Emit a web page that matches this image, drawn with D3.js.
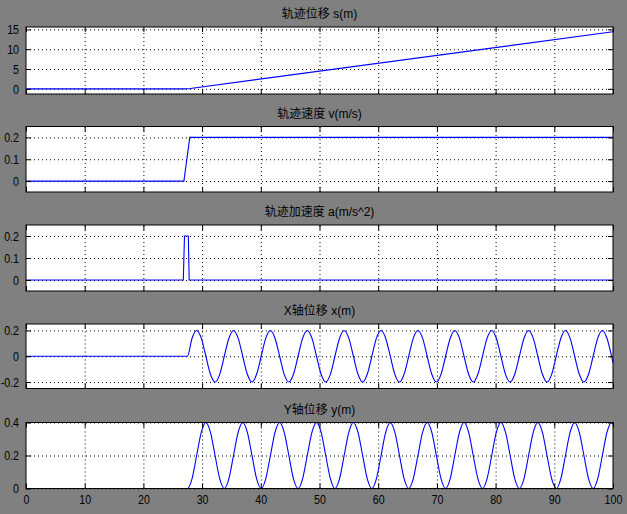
<!DOCTYPE html>
<html>
<head>
<meta charset="utf-8">
<script src="https://cdn.jsdelivr.net/npm/d3@7/dist/d3.min.js"></script>
<style>
  html, body { margin: 0; padding: 0; background: #808080; }
  svg { display: block; }
  .tick text { font-family: "Liberation Sans", Arial, sans-serif; font-size: 13px; fill: #000; }
  .title { font-family: "Liberation Sans", "Noto Sans CJK SC", sans-serif; font-size: 12px; fill: #000; }
</style>
</head>
<body>
<svg id="chart" width="627" height="514"></svg>
<script>
// ---- data ----
const titles = ["轨迹位移 s(m)", "轨迹速度 v(m/s)", "轨迹加速度 a(m/s^2)", "X轴位移 x(m)", "Y轴位移 y(m)"];
const xTicks = [0, 10, 20, 30, 40, 50, 60, 70, 80, 90, 100];
const yTicksS = [0, 5, 10, 15];
const yTicksV = [0, 0.1, 0.2];
const yTicksA = [0, 0.1, 0.2];
const yTicksX = [-0.2, 0, 0.2];
const yTicksY = [0, 0.2, 0.4];

const sTime = [0, 27.0, 27.5, 28.0, 100];
const sVal  = [0, 0, 0.025, 0.1, 14.4];

const vTime = [0, 26.9, 27.9, 100];
const vVal  = [0, 0, 0.2, 0.2];

const aTime = [0, 26.8, 27.0, 27.65, 27.8, 100];
const aVal  = [0, 0, 0.2, 0.2, 0, 0];

const oscTime = [0, 27.50, 28.29, 29.07, 29.86, 30.64, 31.43, 32.21, 33.00,
  33.78, 34.57, 35.35, 36.14, 36.92, 37.71, 38.50, 39.28,
  40.07, 40.85, 41.64, 42.42, 43.21, 43.99, 44.78, 45.56,
  46.35, 47.13, 47.92, 48.71, 49.49, 50.28, 51.06, 51.85,
  52.63, 53.42, 54.20, 54.99, 55.77, 56.56, 57.35, 58.13,
  58.92, 59.70, 60.49, 61.27, 62.06, 62.84, 63.63, 64.41,
  65.20, 65.98, 66.77, 67.56, 68.34, 69.13, 69.91, 70.70,
  71.48, 72.27, 73.05, 73.84, 74.62, 75.41, 76.19, 76.98,
  77.77, 78.55, 79.34, 80.12, 80.91, 81.69, 82.48, 83.26,
  84.05, 84.84, 85.62, 86.41, 87.19, 87.98, 88.76, 89.55,
  90.33, 91.12, 91.90, 92.69, 93.47, 94.26, 95.05, 95.83,
  96.62, 97.40, 98.19, 98.97, 99.76, 100];
const xPos = [0, 0, 0.14, 0.2, 0.14, 0, -0.14, -0.2, -0.14,
  0, 0.14, 0.2, 0.14, 0, -0.14, -0.2, -0.14,
  0, 0.14, 0.2, 0.14, 0, -0.14, -0.2, -0.14,
  0, 0.14, 0.2, 0.14, 0, -0.14, -0.2, -0.14,
  0, 0.14, 0.2, 0.14, 0, -0.14, -0.2, -0.14,
  0, 0.14, 0.2, 0.14, 0, -0.14, -0.2, -0.14,
  0, 0.14, 0.2, 0.14, 0, -0.14, -0.2, -0.14,
  0, 0.14, 0.2, 0.14, 0, -0.14, -0.2, -0.14,
  0, 0.14, 0.2, 0.14, 0, -0.14, -0.2, -0.14,
  0, 0.14, 0.2, 0.14, 0, -0.14, -0.2, -0.14,
  0, 0.14, 0.2, 0.14, 0, -0.14, -0.2, -0.14,
  0, 0.14, 0.2, 0.14, 0, -0.05];
const yPos = [0, 0, 0.06, 0.2, 0.34, 0.4, 0.34, 0.2, 0.06,
  0, 0.06, 0.2, 0.34, 0.4, 0.34, 0.2, 0.06,
  0, 0.06, 0.2, 0.34, 0.4, 0.34, 0.2, 0.06,
  0, 0.06, 0.2, 0.34, 0.4, 0.34, 0.2, 0.06,
  0, 0.06, 0.2, 0.34, 0.4, 0.34, 0.2, 0.06,
  0, 0.06, 0.2, 0.34, 0.4, 0.34, 0.2, 0.06,
  0, 0.06, 0.2, 0.34, 0.4, 0.34, 0.2, 0.06,
  0, 0.06, 0.2, 0.34, 0.4, 0.34, 0.2, 0.06,
  0, 0.06, 0.2, 0.34, 0.4, 0.34, 0.2, 0.06,
  0, 0.06, 0.2, 0.34, 0.4, 0.34, 0.2, 0.06,
  0, 0.06, 0.2, 0.34, 0.4, 0.34, 0.2, 0.06,
  0, 0.06, 0.2, 0.34, 0.4, 0.39];

// ---- layout ----
const svg = d3.select("#chart");
const left = 26, right = 613;
const x = d3.scaleLinear().domain([0, 100]).range([left, right]);
const squeeze = 0.82; // narrow tick-label glyphs like the original

const panels = [
  { title: titles[0], t: sTime, v: sVal, ticks: yTicksS, dom: [-1.3, 15.6], top: 27, h: 67, curve: d3.curveLinear },
  { title: titles[1], t: vTime, v: vVal, ticks: yTicksV, dom: [-0.05, 0.25], top: 126.5, h: 65.5, curve: d3.curveLinear },
  { title: titles[2], t: aTime, v: aVal, ticks: yTicksA, dom: [-0.05, 0.25], top: 225, h: 66, curve: d3.curveLinear },
  { title: titles[3], t: oscTime, v: xPos, ticks: yTicksX, dom: [-0.25, 0.25], top: 324, h: 64.5, curve: d3.curveMonotoneX },
  { title: titles[4], t: oscTime, v: yPos, ticks: yTicksY, dom: [0, 0.4], top: 422.5, h: 66, curve: d3.curveMonotoneX }
];

panels.forEach((p, i) => {
  const y = d3.scaleLinear().domain(p.dom).range([p.top + p.h, p.top]);
  const g = svg.append("g");
  const W = right - left;

  g.append("rect").attr("x", left).attr("y", p.top).attr("width", W).attr("height", p.h)
    .attr("fill", "#fff");

  // grid
  const gx = g.append("g").attr("transform", `translate(0,${p.top + p.h})`)
    .call(d3.axisBottom(x).tickValues(xTicks.slice(1, -1)).tickSize(-p.h).tickFormat(""));
  const gy = g.append("g").attr("transform", `translate(${left},0)`)
    .call(d3.axisLeft(y).tickValues(p.ticks).tickSize(-W).tickFormat(""));
  [gx, gy].forEach(a => {
    a.select(".domain").remove();
    a.selectAll("line").attr("stroke", "#000").attr("stroke-width", 1).attr("stroke-dasharray", "1,3");
  });

  // data line
  const line = d3.line().x((d, k) => x(p.t[k])).y(d => y(d)).curve(p.curve);
  g.append("path").datum(p.v).attr("d", line)
    .attr("fill", "none").attr("stroke", "#0000ff").attr("stroke-width", 1.1);

  // ticks (inward) on all four sides
  const tl = 5;
  const bottom = g.append("g").attr("transform", `translate(0,${p.top + p.h})`)
    .call(d3.axisBottom(x).tickValues(xTicks).tickSize(-tl).tickPadding(6)
      .tickFormat(i === panels.length - 1 ? d => String(d) : ""));
  const top = g.append("g").attr("transform", `translate(0,${p.top})`)
    .call(d3.axisTop(x).tickValues(xTicks).tickSize(-tl).tickFormat(""));
  const leftAx = g.append("g").attr("transform", `translate(${left},0)`)
    .call(d3.axisLeft(y).tickValues(p.ticks).tickSize(-tl).tickPadding(7).tickFormat(d => String(d)));
  const rightAx = g.append("g").attr("transform", `translate(${right},0)`)
    .call(d3.axisRight(y).tickValues(p.ticks).tickSize(-tl).tickFormat(""));
  [bottom, top, leftAx, rightAx].forEach(a => {
    a.select(".domain").remove();
    a.selectAll("line").attr("stroke", "#000");
    a.selectAll("text").each(function () {
      const t = d3.select(this);
      const xx = +t.attr("x") || 0;
      t.attr("x", xx / squeeze).attr("transform", `scale(${squeeze},1)`);
    });
  });

  g.append("rect").attr("x", left).attr("y", p.top).attr("width", W).attr("height", p.h)
    .attr("fill", "none").attr("stroke", "#000").attr("stroke-width", 1);

  g.append("text").attr("class", "title")
    .attr("x", (left + right) / 2).attr("y", p.top - 9)
    .attr("text-anchor", "middle").text(p.title);
});
</script>
</body>
</html>
